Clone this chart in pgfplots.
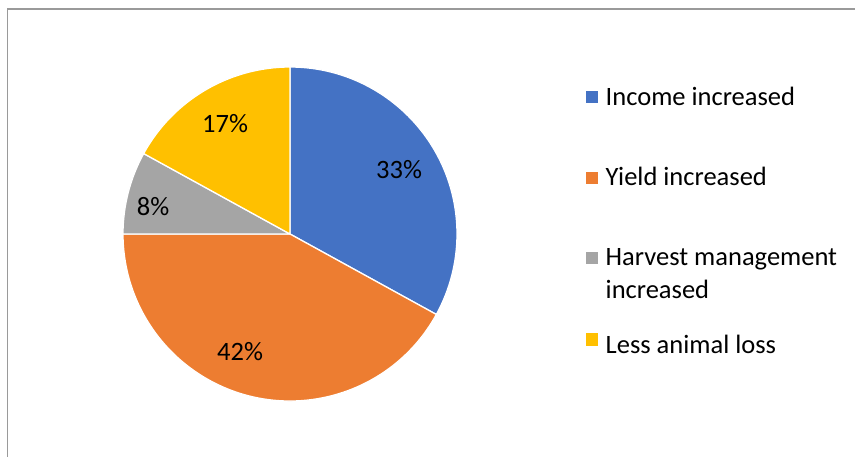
\documentclass[border=0pt]{standalone}
\usepackage{pgfplots}
\usepackage{pgfplotstable}
\pgfplotsset{compat=1.18}
\usepackage{fontspec}
\setmainfont{Carlito}
\definecolor{cIncome}{HTML}{4472C4}
\definecolor{cYield}{HTML}{ED7D31}
\definecolor{cHarvest}{HTML}{A5A5A5}
\definecolor{cLoss}{HTML}{FFC000}
\definecolor{framegray}{HTML}{9A9A9A}
\pgfplotstableread{
value color
33 cIncome
42 cYield
8 cHarvest
17 cLoss
}\piedata
\begin{document}
\begin{tikzpicture}[x=1pt,y=1pt]
\useasboundingbox (0,0) rectangle (855,456);
\draw[framegray, line width=1.3pt] (7.5,-5) -- (7.5,447) -- (860,447);
\begin{axis}[hide axis, x=167pt, y=167pt, xmin=-1, xmax=1, ymin=-1, ymax=1,
  anchor=center, at={(290pt,222pt)}, clip=false]
\pgfplotstablegetrowsof{\piedata}
\pgfmathtruncatemacro\N{\pgfplotsretval-1}
\xdef\cum{90}
\pgfplotsforeachungrouped \i in {0,...,\N} {%
  \pgfplotstablegetelem{\i}{value}\of\piedata \let\v\pgfplotsretval
  \pgfplotstablegetelem{\i}{color}\of\piedata \let\cc\pgfplotsretval
  \pgfmathsetmacro\e{\cum-3.6*\v}%
  \edef\temp{\noexpand\filldraw[fill=\cc, draw=white, line width=1.3pt, line join=round] (axis cs:0,0) -- (axis cs:{cos(\cum)},{sin(\cum)}) arc[start angle=\cum, end angle=\e, radius=167pt] -- cycle;}%
  \temp
  \xdef\cum{\e}%
}
\node[font=\fontsize{26.5}{32}\selectfont] at (axis cs:0.653,0.383) {33\%};
\node[font=\fontsize{26.5}{32}\selectfont] at (axis cs:-0.299,-0.707) {42\%};
\node[font=\fontsize{26.5}{32}\selectfont] at (axis cs:-0.82,0.162) {8\%};
\node[font=\fontsize{26.5}{32}\selectfont] at (axis cs:-0.389,0.659) {17\%};
\end{axis}
\begingroup
\fontsize{26.5}{32}\selectfont
\fill[cIncome] (585.5,456-103.5) rectangle ++(12.6,12.6);
\node[anchor=base west, inner sep=0pt] at (605.5,456-105.7) {Income increased};
\fill[cYield] (585.5,456-184.3) rectangle ++(12.6,12.6);
\node[anchor=base west, inner sep=0pt] at (605.5,456-185.5) {Yield increased};
\fill[cHarvest] (585.5,456-264.3) rectangle ++(12.6,12.6);
\node[anchor=base west, inner sep=0pt] at (605.5,456-266) {Harvest management};
\node[anchor=base west, inner sep=0pt] at (605.5,456-298.5) {increased};
\fill[cLoss] (585.5,456-345.7) rectangle ++(12.6,12.6);
\node[anchor=base west, inner sep=0pt] at (605.5,456-353) {Less animal loss};
\endgroup
\end{tikzpicture}
\end{document}
